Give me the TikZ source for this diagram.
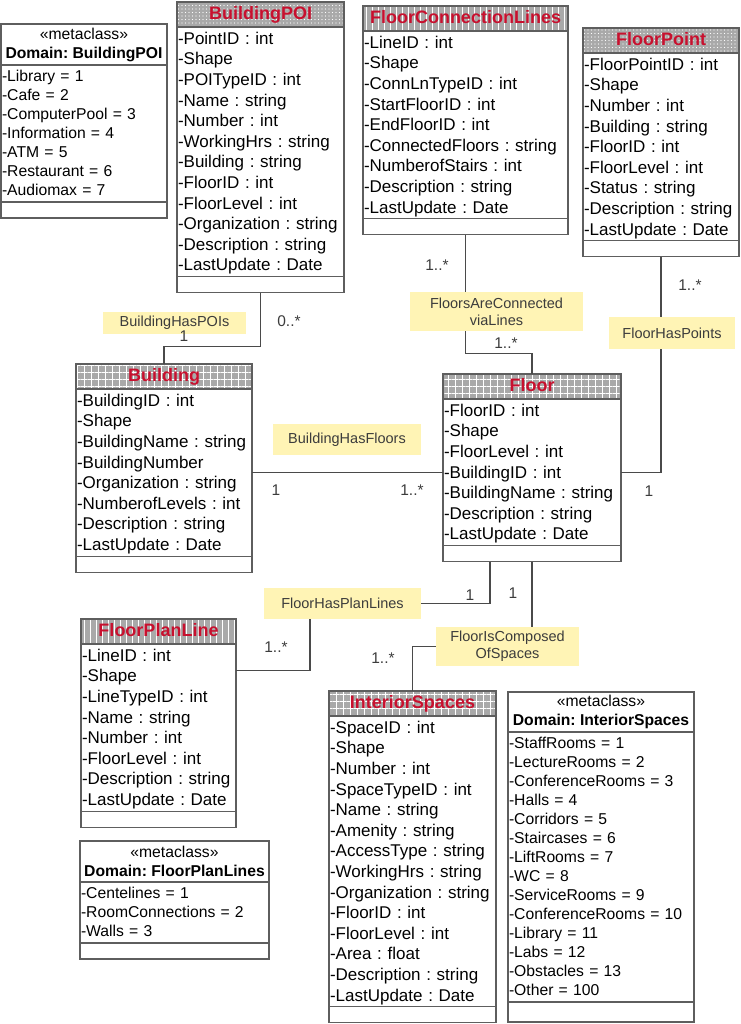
\documentclass[tikz,border=0pt]{standalone}
\usepackage{fontspec}
\setmainfont{Liberation Sans}
\usepackage{tikz}
\usetikzlibrary{positioning,patterns.meta}
\frenchspacing

\definecolor{boxgray}{HTML}{5E5E5E}
\definecolor{hdrgray}{HTML}{A9A9A9}
\definecolor{titlered}{HTML}{C8102E}
\definecolor{linegray}{HTML}{4A4A4A}
\definecolor{relyellow}{HTML}{FFF4B5}
\definecolor{reltext}{HTML}{3C3C3C}

\newcommand{\clshead}{\fontsize{18}{20}\selectfont\bfseries}
\newcommand{\clsattr}{\fontsize{17}{20.6}\selectfont}
\newcommand{\clsmeta}{\fontsize{15.7}{19}\selectfont}
\newcommand{\clsrel}{\fontsize{14.5}{17}\selectfont}
\newcommand{\clsmult}{\fontsize{15.5}{18}\selectfont}

\begin{document}
\begin{tikzpicture}[
  x=1pt, y=-1pt,
  node distance=0pt,
  every node/.style={outer sep=0pt},
  classhead/.style={draw=boxgray, line width=1.2pt, preaction={fill=hdrgray},
    pattern color=white, inner sep=0pt, minimum height=25pt, anchor=north west,
    font=\clshead, text=titlered, text height=13pt, text depth=3.5pt},
  gridhead/.style={classhead, pattern={Hatch[angle=0, distance=7pt, line width=1pt]}},
  linehead/.style={classhead, pattern={Lines[angle=90, distance=6pt, line width=1pt]}},
  dothead/.style={classhead, pattern={Dots[distance=3.5pt, radius=0.6pt]}},
  classbody/.style={draw=boxgray, line width=1.2pt, inner xsep=1pt, inner ysep=0pt,
    align=left, font=\clsattr, text height=15pt, minimum height={23pt+(#1-1)*20.6pt}},
  classops/.style={draw=boxgray, line width=1.2pt, inner sep=0pt, minimum height=16pt},
  metahead/.style={draw=boxgray, line width=1.2pt, inner sep=0pt, anchor=north west,
    align=center, font=\clsmeta, minimum height=41pt},
  metabody/.style={draw=boxgray, line width=1.2pt, inner xsep=1pt, inner ysep=0pt,
    align=left, font=\clsmeta, text height=10.5pt, minimum height={23pt+(#1-1)*19pt}},
  assoc/.style={fill=relyellow, text=reltext, font=\clsrel, align=center, inner sep=0pt},
  mult/.style={text=reltext, font=\clsmult, inner sep=0pt},
  link/.style={draw=linegray, line width=1.1pt}
    ]
\useasboundingbox (0,0) rectangle (740,1024);

% domain lists
\node[metahead, minimum width=166pt] (dpoi-h) at (1,24) {«metaclass»\\\textbf{Domain: BuildingPOI}};
\node[metabody=7, text width=164pt, below=of dpoi-h] (dpoi-a) {-Library = 1\\-Cafe = 2\\-ComputerPool = 3\\-Information = 4\\-ATM = 5\\-Restaurant = 6\\-Audiomax = 7};
\node[classops, minimum width=166pt, below=of dpoi-a] (dpoi-o) {};

\node[metahead, minimum width=189pt] (dfpl-h) at (80,841) {«metaclass»\\\textbf{Domain: FloorPlanLines}};
\node[metabody=3, text width=187pt, below=of dfpl-h] (dfpl-a) {-Centelines = 1\\-RoomConnections = 2\\-Walls = 3};
\node[classops, minimum width=189pt, below=of dfpl-a] (dfpl-o) {};

\node[metahead, minimum width=186pt, minimum height=40pt] (disp-h) at (508,692) {«metaclass»\\\textbf{Domain: InteriorSpaces}};
\node[metabody=14, text width=184pt, below=of disp-h] (disp-a) {-StaffRooms = 1\\-LectureRooms = 2\\-ConferenceRooms = 3\\-Halls = 4\\-Corridors = 5\\-Staircases = 6\\-LiftRooms = 7\\-WC = 8\\-ServiceRooms = 9\\-ConferenceRooms = 10\\-Library = 11\\-Labs = 12\\-Obstacles = 13\\-Other = 100};
\node[classops, minimum width=186pt, minimum height=20pt, below=of disp-a] (disp-o) {};

% classes
\node[dothead, minimum width=167pt] (bpoi-h) at (177,2) {BuildingPOI};
\node[classbody=12, text width=165pt, below=of bpoi-h] (bpoi-a) {-PointID : int\\-Shape\\-POITypeID : int\\-Name : string\\-Number : int\\-WorkingHrs : string\\-Building : string\\-FloorID : int\\-FloorLevel : int\\-Organization : string\\-Description : string\\-LastUpdate : Date};
\node[classops, minimum width=167pt, below=of bpoi-a] (bpoi-o) {};

\node[linehead, minimum width=205pt] (fcl-h) at (363,6) {FloorConnectionLines};
\node[classbody=9, text width=203pt, below=of fcl-h] (fcl-a) {-LineID : int\\-Shape\\-ConnLnTypeID : int\\-StartFloorID : int\\-EndFloorID : int\\-ConnectedFloors : string\\-NumberofStairs : int\\-Description : string\\-LastUpdate : Date};
\node[classops, minimum width=205pt, below=of fcl-a] (fcl-o) {};

\node[dothead, minimum width=156pt] (fpt-h) at (583,28) {FloorPoint};
\node[classbody=9, text width=154pt, below=of fpt-h] (fpt-a) {-FloorPointID : int\\-Shape\\-Number : int\\-Building : string\\-FloorID : int\\-FloorLevel : int\\-Status : string\\-Description : string\\-LastUpdate : Date};
\node[classops, minimum width=156pt, below=of fpt-a] (fpt-o) {};

\node[gridhead, minimum width=176pt] (bld-h) at (76,364) {Building};
\node[classbody=8, text width=174pt, below=of bld-h] (bld-a) {-BuildingID : int\\-Shape\\-BuildingName : string\\-BuildingNumber\\-Organization : string\\-NumberofLevels : int\\-Description : string\\-LastUpdate : Date};
\node[classops, minimum width=176pt, below=of bld-a] (bld-o) {};

\node[gridhead, minimum width=178pt] (flr-h) at (443,374) {Floor};
\node[classbody=7, text width=176pt, below=of flr-h] (flr-a) {-FloorID : int\\-Shape\\-FloorLevel : int\\-BuildingID : int\\-BuildingName : string\\-Description : string\\-LastUpdate : Date};
\node[classops, minimum width=178pt, below=of flr-a] (flr-o) {};

\node[linehead, minimum width=155pt] (fpl-h) at (81,619) {FloorPlanLine};
\node[classbody=8, text width=153pt, below=of fpl-h] (fpl-a) {-LineID : int\\-Shape\\-LineTypeID : int\\-Name : string\\-Number : int\\-FloorLevel : int\\-Description : string\\-LastUpdate : Date};
\node[classops, minimum width=155pt, below=of fpl-a] (fpl-o) {};

\node[gridhead, minimum width=167pt] (isp-h) at (329,691) {InteriorSpaces};
\node[classbody=14, text width=165pt, below=of isp-h] (isp-a) {-SpaceID : int\\-Shape\\-Number : int\\-SpaceTypeID : int\\-Name : string\\-Amenity : string\\-AccessType : string\\-WorkingHrs : string\\-Organization : string\\-FloorID : int\\-FloorLevel : int\\-Area : float\\-Description : string\\-LastUpdate : Date};
\node[classops, minimum width=167pt, below=of isp-a] (isp-o) {};

% associations
\path[link] (bpoi-o.south) -- ++(0,54) -| (bld-h.north);
\path[link] (fcl-o.south) -- ++(0,119) -| (flr-h.north);
\path[link] (fpt-o.south) |- (flr-a.east);
\path[link] (bld-a.east) -- (bld-a.east -| flr-a.west);
\coordinate (hasplan) at (342.5,603.5);
\coordinate (composed) at (507.5,646.5);
\path[link] ([xshift=-42pt]flr-o.south) |- ([xshift=-32.5pt]hasplan) |- ([yshift=57pt]fpl-a.east);
\path[link] (flr-o.south) |- (composed) -| (isp-h.north);

\node[assoc, minimum width=143pt, minimum height=22pt] (haspoi) at (174.5,323) {BuildingHasPOIs};
\node[assoc, minimum width=173pt, minimum height=39pt] (connected) at (496.5,311.5) {FloorsAreConnected\\viaLines};
\node[assoc, minimum width=126pt, minimum height=32pt] (haspts) at (672,333) {FloorHasPoints};
\node[assoc, minimum width=148pt, minimum height=31pt] (hasfloors) at (347,439.5) {BuildingHasFloors};
\node[assoc, minimum width=157pt, minimum height=31pt] (hasplanlbl) at (hasplan) {FloorHasPlanLines};
\node[assoc, minimum width=143pt, minimum height=39pt] (composedlbl) at (composed) {FloorIsComposed\\OfSpaces};

% multiplicities
\node[mult] (m1) at (289,321) {0..*};
\node[mult] (m2) at (184,336) {1};
\node[mult] (m3) at (437,265) {1..*};
\node[mult] (m4) at (506,343) {1..*};
\node[mult] (m5) at (690,285) {1..*};
\node[mult] (m6) at (649,491) {1};
\node[mult] (m7) at (276,490) {1};
\node[mult] (m8) at (412,490) {1..*};
\node[mult] (m9) at (470,595) {1};
\node[mult] (m10) at (513,593) {1};
\node[mult] (m11) at (276,647) {1..*};
\node[mult] (m12) at (383,658) {1..*};
\end{tikzpicture}
\end{document}
